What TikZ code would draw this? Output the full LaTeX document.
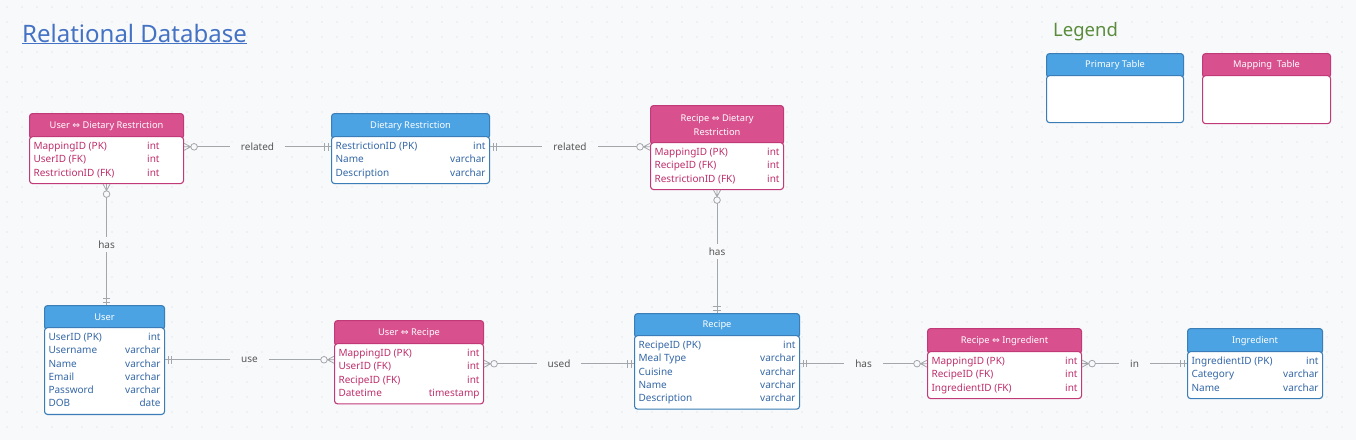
\documentclass[tikz,border=0pt]{standalone}
\usepackage{fontspec}
\setmainfont{Noto Sans}
\newfontfamily\symfont{DejaVu Sans}
\usepackage{xcolor}
\usetikzlibrary{positioning}

\definecolor{bgcol}{HTML}{F8F9FB}
\definecolor{dotcol}{HTML}{D3D6DB}
\definecolor{pinkfill}{HTML}{D9508F}
\definecolor{pinkline}{HTML}{C03A77}
\definecolor{pinktext}{HTML}{BE2F6C}
\definecolor{bluefill}{HTML}{4BA3E3}
\definecolor{blueline}{HTML}{3B7DB6}
\definecolor{bluetext}{HTML}{3467A6}
\definecolor{titleblue}{HTML}{4472C4}
\definecolor{legendgreen}{HTML}{5A8C3C}
\definecolor{linegray}{HTML}{A3A6AA}
\definecolor{labelgray}{HTML}{555555}

% double arrow in the mapping table titles
\newcommand{\lr}{{\symfont ⇔}}
% two-column field list: name left, type right
\newcommand{\fields}[2]{\begin{tabular*}{#1}{@{}l@{\extracolsep{\fill}}r@{}}#2\end{tabular*}}

% crow's foot ends
\pgfdeclarearrow{
  name = ERone,
  setup code = {
    \pgfarrowssettipend{0pt}
    \pgfarrowssetlineend{0pt}
    \pgfarrowssetbackend{-8pt}
  },
  drawing code = {
    \pgfpathmoveto{\pgfqpoint{-3pt}{-3.8pt}}
    \pgfpathlineto{\pgfqpoint{-3pt}{3.8pt}}
    \pgfpathmoveto{\pgfqpoint{-6.5pt}{-3.8pt}}
    \pgfpathlineto{\pgfqpoint{-6.5pt}{3.8pt}}
    \pgfusepathqstroke
  }
}
\pgfdeclarearrow{
  name = ERmany,
  setup code = {
    \pgfarrowssettipend{0pt}
    \pgfarrowssetlineend{-13.3pt}
    \pgfarrowssetbackend{-13.3pt}
  },
  drawing code = {
    \pgfpathmoveto{\pgfqpoint{0pt}{3.5pt}}
    \pgfpathlineto{\pgfqpoint{-6.5pt}{0pt}}
    \pgfpathlineto{\pgfqpoint{0pt}{-3.5pt}}
    \pgfpathmoveto{\pgfqpoint{-6.5pt}{0pt}}
    \pgfpathlineto{\pgfqpoint{0pt}{0pt}}
    \pgfpathcircle{\pgfqpoint{-10pt}{0pt}}{3.3pt}
    \pgfusepathqstroke
  }
}

\begin{document}
\begin{tikzpicture}[
    x=1pt, y=-1pt,
    head/.style={rectangle, rounded corners=3pt, line width=1.1pt, text=white, align=center, anchor=north west, inner sep=2pt, font=\fontsize{9.3}{13.5}\selectfont},
    mainhead/.style={head, fill=bluefill, draw=blueline},
    maphead/.style={head, fill=pinkfill, draw=pinkline},
    body/.style={rectangle, rounded corners=3pt, line width=1.1pt, fill=white, inner xsep=4pt, inner ysep=3.5pt, font=\fontsize{10}{13.3}\selectfont},
    mainbody/.style={body, draw=blueline, text=bluetext},
    mapbody/.style={body, draw=pinkline, text=pinktext},
    rel/.style={draw=linegray, line width=0.8pt},
    lbl/.style={fill=bgcol, text=labelgray, inner xsep=11pt, inner ysep=1pt, font=\fontsize{10}{12}\selectfont},
    vlbl/.style={lbl, inner xsep=2pt, inner ysep=4pt}
]
\useasboundingbox (0,0) rectangle (1356,440);

% Background with dot grid
\fill[bgcol] (0,0) rectangle (1356,440);
\foreach \x in {7,22,...,1356} {
  \foreach \y in {7,22,...,440} {
    \fill[dotcol] (\x,\y) circle (0.6pt);
  }
}

% Title and legend
\node[anchor=base west, inner sep=0pt, text=titleblue, font=\fontsize{24}{28}\selectfont] (title) at (22,42) {\underline{Relational Database}};
\node[anchor=base west, inner sep=0pt, text=legendgreen, font=\fontsize{18.5}{22}\selectfont] (legend) at (1053,36) {Legend};

\node[mainhead, minimum width=137pt, minimum height=24pt] (primaryhead) at (1046,53) {Primary Table};
\node[mainbody, minimum width=137pt, minimum height=47pt, below=-3pt of primaryhead] (primary) {};
\node[maphead, minimum width=128pt, minimum height=24pt] (mappinghead) at (1202,53) {Mapping~ Table};
\node[mapbody, minimum width=128pt, minimum height=48pt, below=-3pt of mappinghead] (mapping) {};

% Top row
\node[maphead, minimum width=154pt, minimum height=25pt] (udrhead) at (29,113) {User \lr{} Dietary Restriction};
\node[mapbody, minimum width=154pt, below=-3pt of udrhead] (udr) {\fields{146pt}{
  MappingID (PK) & int\hspace*{20pt}\\
  UserID (FK) & int\hspace*{20pt}\\
  RestrictionID (FK) & int\hspace*{20pt}}};

\node[mainhead, minimum width=158pt, minimum height=25pt] (drhead) at (331,113) {Dietary Restriction};
\node[mainbody, minimum width=158pt, below=-3pt of drhead] (dr) {\fields{150pt}{
  RestrictionID (PK) & int\\
  Name & varchar\\
  Description & varchar}};

\node[maphead, minimum width=133pt, minimum height=39pt] (rdrhead) at (650,105) {Recipe \lr{} Dietary\\Restriction};
\node[mapbody, minimum width=133pt, below=-3pt of rdrhead] (rdr) {\fields{125pt}{
  MappingID (PK) & int\\
  RecipeID (FK) & int\\
  RestrictionID (FK) & int}};

% Bottom row
\node[mainhead, minimum width=120pt, minimum height=24pt] (userhead) at (44,305) {User};
\node[mainbody, minimum width=120pt, below=-3pt of userhead] (user) {\fields{112pt}{
  UserID (PK) & int\\
  Username & varchar\\
  Name & varchar\\
  Email & varchar\\
  Password & varchar\\
  DOB & date}};

\node[maphead, minimum width=149pt, minimum height=25pt] (urhead) at (334,320) {User \lr{} Recipe};
\node[mapbody, minimum width=149pt, below=-3pt of urhead] (ur) {\fields{141pt}{
  MappingID (PK) & int\\
  UserID (FK) & int\\
  RecipeID (FK) & int\\
  Datetime & timestamp}};

\node[mainhead, minimum width=165pt, minimum height=24pt] (recipehead) at (634,313) {Recipe};
\node[mainbody, minimum width=165pt, below=-3pt of recipehead] (recipe) {\fields{157pt}{
  RecipeID (PK) & int\\
  Meal Type & varchar\\
  Cuisine & varchar\\
  Name & varchar\\
  Description & varchar}};

\node[maphead, minimum width=154pt, minimum height=25pt] (rihead) at (927,328) {Recipe \lr{} Ingredient};
\node[mapbody, minimum width=154pt, below=-3pt of rihead] (ri) {\fields{146pt}{
  MappingID (PK) & int\\
  RecipeID (FK) & int\\
  IngredientID (FK) & int}};

\node[mainhead, minimum width=135pt, minimum height=25pt] (inghead) at (1187,328) {Ingredient};
\node[mainbody, minimum width=135pt, below=-3pt of inghead] (ing) {\fields{127pt}{
  IngredientID (PK) & int\\
  Category & varchar\\
  Name & varchar}};

% Relations, top row
\coordinate (drrow) at ([yshift=13.3pt]dr.east);
\draw[rel, arrows=ERmany-ERone] ([yshift=13.3pt]udr.east) -- ([yshift=13.3pt]dr.west) node[lbl, midway] {related};
\draw[rel, arrows=ERone-ERmany] (drrow) -- (drrow -| rdr.west) node[lbl, midway] {related};

% Relations, vertical
\draw[rel, arrows=ERmany-ERone] (udr.south) -- (udr.south |- userhead.north) node[vlbl, midway] {has};
\draw[rel, arrows=ERmany-ERone] (rdr.south) -- (rdr.south |- recipehead.north) node[vlbl, midway] {has};

% Relations, bottom row
\coordinate (urin) at ([yshift=14pt]ur.west);
\coordinate (urout) at ([yshift=10pt]ur.east);
\coordinate (recipeout) at ([yshift=8.75pt]recipe.east);
\coordinate (riout) at ([yshift=11.5pt]ri.east);
\draw[rel, arrows=ERone-ERmany] (urin -| user.east) -- (urin) node[lbl, midway] {use};
\draw[rel, arrows=ERmany-ERone] (urout) -- (urout -| recipe.west) node[lbl, midway] {used};
\draw[rel, arrows=ERone-ERmany] (recipeout) -- (recipeout -| ri.west) node[lbl, midway] {has};
\draw[rel, arrows=ERmany-ERone] (riout) -- (riout -| ing.west) node[lbl, midway] {in};

\end{tikzpicture}
\end{document}
